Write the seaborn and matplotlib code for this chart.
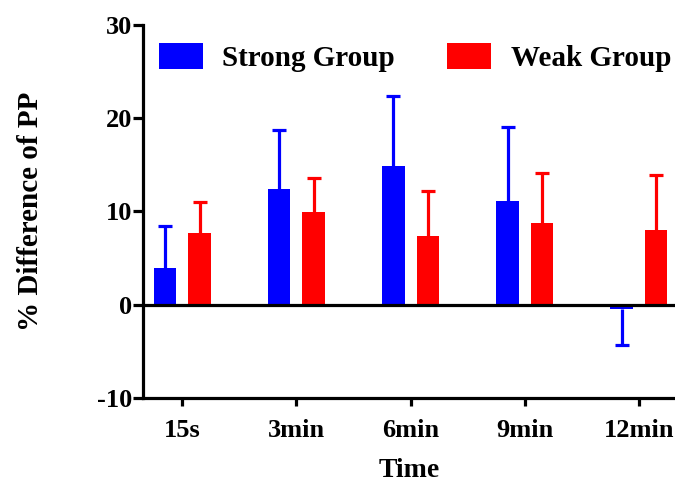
import matplotlib
matplotlib.use("Agg")
import matplotlib.pyplot as plt
import seaborn as sns
import pandas as pd

# ---- data ----
times = ["15s", "3min", "6min", "9min", "12min"]
groups = ["Strong Group", "Weak Group"]
strong_mean = [3.9, 12.4, 14.9, 11.1, -0.5]
strong_sd = [4.55, 6.3, 7.5, 8.0, 3.8]
weak_mean = [7.7, 9.95, 7.35, 8.8, 8.05]
weak_sd = [3.3, 3.65, 4.85, 5.3, 5.8]
colors = ["#0000FF", "#FF0000"]
yticks = [-10, 0, 10, 20, 30]

df = pd.DataFrame({
    "Time": times * 2,
    "Group": [groups[0]] * len(times) + [groups[1]] * len(times),
    "value": strong_mean + weak_mean,
})
means = {groups[0]: strong_mean, groups[1]: weak_mean}
sds = {groups[0]: strong_sd, groups[1]: weak_sd}

sns.set_style("ticks")
plt.rcParams["font.family"] = ["Liberation Serif", "DejaVu Serif"]
plt.rcParams["font.weight"] = "bold"
plt.rcParams["text.color"] = "black"
plt.rcParams["axes.labelcolor"] = "black"
plt.rcParams["xtick.color"] = "black"
plt.rcParams["ytick.color"] = "black"
plt.rcParams["axes.unicode_minus"] = False

fig = plt.figure(figsize=(6.75, 4.87), dpi=100)
ax = fig.add_axes([0.2119, 0.1834, 0.7881, 0.7653])

sns.barplot(data=df, x="Time", y="value", hue="Group", order=times,
            hue_order=groups, palette=colors, width=0.6, gap=0.35,
            saturation=1, errorbar=None, linewidth=0, ax=ax)

lw = 2.3
for cont, g, c in zip(ax.containers, groups, colors):
    for bar, val, sd in zip(cont, means[g], sds[g]):
        x = bar.get_x() + bar.get_width() / 2
        end = val + sd if val >= 0 else val - sd
        ax.plot([x, x], [val, end], color=c, lw=lw, zorder=1,
                solid_capstyle="butt")
        ax.plot([x], [end], marker="_", markersize=10, mew=lw, color=c,
                zorder=1)

ax.axhline(0, color="black", lw=lw, zorder=5)

ax.set_ylim(-10, 30)
ax.set_yticks(yticks)
ax.set_xlim(-0.345, 4.318)

for s in ["top", "right"]:
    ax.spines[s].set_visible(False)
for s in ["left", "bottom"]:
    ax.spines[s].set_linewidth(lw)
    ax.spines[s].set_color("black")

ax.tick_params(axis="y", length=7, width=lw, pad=1, labelsize=19, colors="black")
ax.tick_params(axis="x", length=6, width=lw, pad=9, labelsize=19, colors="black")
for lab in ax.get_xticklabels() + ax.get_yticklabels():
    lab.set_fontweight("bold")

ax.set_xlabel("Time", fontsize=20, fontweight="bold", labelpad=12)
ax.set_ylabel("% Difference of PP", fontsize=21, fontweight="bold", labelpad=38)

leg = ax.legend(loc="center left", bbox_to_anchor=(0.03, 0.914), ncol=2,
                frameon=False, fontsize=21, handlelength=1.5, handleheight=1.0,
                handletextpad=0.67, columnspacing=1.8, borderpad=0,
                borderaxespad=0)
for t in leg.get_texts():
    t.set_fontweight("bold")
    t.set_color("black")

fig.savefig("out.png", dpi=100)
